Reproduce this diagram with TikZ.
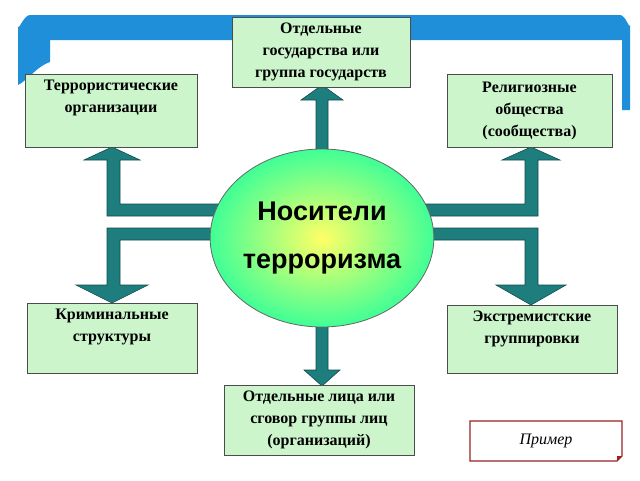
\documentclass[tikz,border=0pt]{standalone}
\usepackage{fontspec}
\setmainfont{Liberation Serif}
\newfontfamily\hsans{Liberation Sans}
\usetikzlibrary{shapes.geometric}
\definecolor{teal1}{HTML}{1E7E7E}
\definecolor{boxg}{HTML}{CCF5CC}
\definecolor{barb}{HTML}{1E8FD8}
\definecolor{redb}{HTML}{992222}
\begin{document}
\begin{tikzpicture}[x=1pt,y=-1pt,
  btxt/.style={font=\bfseries\fontsize{16}{22}\selectfont,align=center},
  box/.style={draw=black!70,fill=boxg,line width=0.8pt,btxt,inner sep=0pt},
  arr/.style={fill=teal1,draw=teal1!60!black,line width=0.6pt,line join=miter}]
\useasboundingbox (0,0) rectangle (640,480);
\fill[white] (0,0) rectangle (640,480);
% blue bar
\fill[barb] (18,85) -- (18,26) to[out=-90,in=180] (30,15) -- (620,15) to[out=0,in=-90] (630,25) -- (630,110) -- (622,110) -- (622,40) -- (50,40) -- (50,62) to[out=200,in=30] (18,85) -- cycle;
% arrows
\draw[arr] (316,160) -- (316,100) -- (301,100) -- (322,85) -- (343,100) -- (328,100) -- (328,160) -- cycle;
\draw[arr] (316,320) -- (316,370) -- (304,370) -- (322,386) -- (340,370) -- (328,370) -- (328,320) -- cycle;
\draw[arr] (230,204) -- (120,204) -- (120,160) -- (140,160) -- (112,147) -- (84,160) -- (107,160) -- (107,216) -- (230,216) -- cycle;
\draw[arr] (230,228) -- (107,228) -- (107,285) -- (76,285) -- (112,303) -- (148,285) -- (120,285) -- (120,240) -- (230,240) -- cycle;
\draw[arr] (420,204) -- (525,204) -- (525,160) -- (502,160) -- (531,147) -- (560,160) -- (538,160) -- (538,216) -- (420,216) -- cycle;
\draw[arr] (420,228) -- (538,228) -- (538,285) -- (566,285) -- (531,305) -- (496,285) -- (525,285) -- (525,240) -- (420,240) -- cycle;
% ellipse
\node[ellipse,draw=black!60,line width=0.8pt,inner sep=0pt,inner color=yellow!60!white,outer color=green!55!cyan!75!white,minimum width=220,minimum height=178,align=center,font=\hsans\bfseries\fontsize{27}{48}\selectfont] (c) at (322,238) {Носители\\терроризма};
% boxes
\node[box,minimum width=178,minimum height=70] (t) at (321,52) {Отдельные\\государства или\\группа государств};
\node[box,minimum width=172,minimum height=73,anchor=north west] (lt) at (25,74) {};
\node[btxt,anchor=north] at (111,76) {Террористические\\организации};
\node[box,minimum width=165,minimum height=73] (rt) at (529.5,110.5) {Религиозные\\общества\\(сообщества)};
\node[box,minimum width=170,minimum height=70,anchor=north west] (lb) at (27,303) {};
\node[btxt,anchor=north] at (112,305) {Криминальные\\структуры};
\node[box,minimum width=170,minimum height=68,anchor=north west] (rb) at (447,305) {};
\node[btxt,anchor=north] at (532,307) {Экстремистские\\группировки};
\node[box,minimum width=190,minimum height=70] (b) at (319,420) {Отдельные лица или\\сговор группы лиц\\(организаций)};
% button
\draw[redb,line width=1.2pt,fill=white] (470,421) -- (622,421) -- (622,456) -- (617,461) -- (470,461) -- cycle;
\fill[redb] (622,456) -- (617,461) -- (617,456) -- cycle;
\node[font=\itshape\fontsize{16}{18}\selectfont] (p) at (546,441) {Пример};
\end{tikzpicture}
\end{document}
